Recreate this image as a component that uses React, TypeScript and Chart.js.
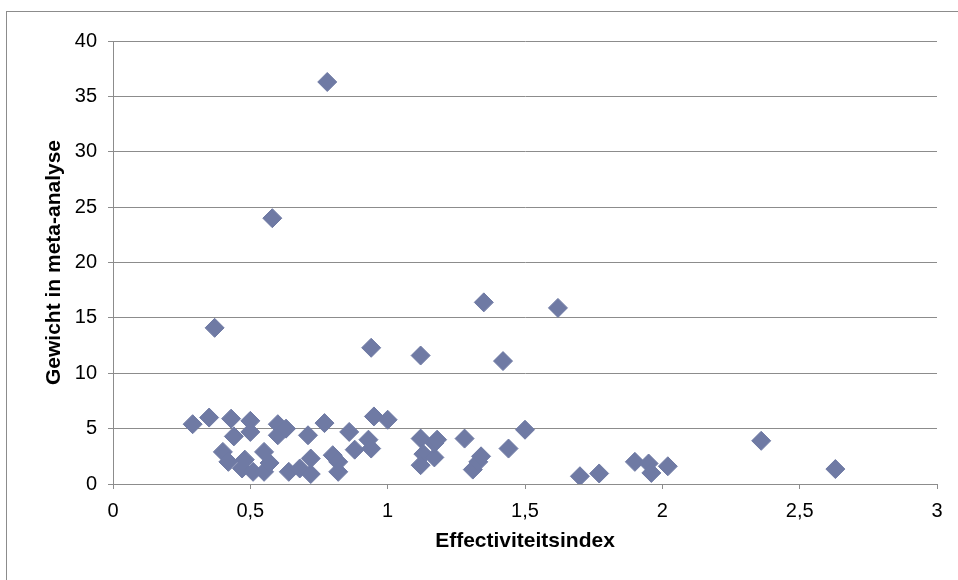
import React, { useEffect, useRef } from "react";
import { Chart, registerables } from "chart.js";

Chart.register(...registerables);

// Effectiviteitsindex (x) and Gewicht in meta-analyse (y)
const effectIndex: number[] = [
  0.29, 0.35, 0.37, 0.40, 0.42, 0.43, 0.44, 0.47, 0.48, 0.50,
  0.50, 0.51, 0.55, 0.55, 0.57, 0.58, 0.60, 0.60, 0.63, 0.64,
  0.68, 0.71, 0.72, 0.72, 0.77, 0.78, 0.80, 0.82, 0.82, 0.86,
  0.88, 0.93, 0.94, 0.94, 0.95, 1.00, 1.12, 1.12, 1.13, 1.12,
  1.17, 1.17, 1.18, 1.28, 1.31, 1.33, 1.34, 1.35, 1.42, 1.44,
  1.50, 1.62, 1.70, 1.77, 1.90, 1.95, 1.96, 2.02, 2.36, 2.63,
];
const weights: number[] = [
  5.4, 6.0, 14.1, 2.9, 2.0, 5.9, 4.3, 1.4, 2.2, 5.7,
  4.7, 1.1, 2.9, 1.1, 1.9, 24.0, 5.4, 4.4, 5.0, 1.1,
  1.4, 4.4, 0.9, 2.3, 5.5, 36.3, 2.6, 2.0, 1.1, 4.7,
  3.1, 4.0, 3.2, 12.3, 6.1, 5.8, 11.6, 4.1, 2.7, 1.7,
  2.4, 3.7, 4.0, 4.1, 1.3, 2.0, 2.5, 16.4, 11.1, 3.2,
  4.9, 15.9, 0.7, 0.95, 2.0, 1.85, 1.0, 1.6, 3.9, 1.35,
];

const xTitle = "Effectiviteitsindex";
const yTitle = "Gewicht in meta-analyse";

const FONT = "'Liberation Sans', Arial, sans-serif";
const GRID = "#8c8c8c";
const MARKER = "#6f7aa4";

const frame = {
  id: "frame",
  beforeDraw(chart: any) {
    const ctx = chart.ctx;
    ctx.save();
    ctx.fillStyle = "#ffffff";
    ctx.fillRect(0, 0, chart.width, chart.height);
    ctx.strokeStyle = GRID;
    ctx.lineWidth = 1;
    ctx.strokeRect(6.5, 11.5, chart.width + 50, chart.height + 50);
    ctx.restore();
  },
};

export default function App() {
  const ref = useRef<HTMLCanvasElement | null>(null);

  useEffect(() => {
    if (!ref.current) return;
    const points = effectIndex.map((x, i) => ({ x, y: weights[i] }));
    const chart = new Chart(ref.current, {
      type: "scatter",
      data: {
        datasets: [
          {
            data: points,
            pointStyle: "rectRot",
            pointRadius: 9.5,
            pointHoverRadius: 9.5,
            backgroundColor: MARKER,
            borderColor: MARKER,
            borderWidth: 1,
          },
        ],
      },
      options: {
        animation: false,
        responsive: false,
        events: [],
        layout: { padding: { top: 41, right: 21, left: 0, bottom: 0 } },
        plugins: { legend: { display: false }, tooltip: { enabled: false } },
        scales: {
          x: {
            type: "linear",
            min: 0,
            max: 3,
            afterFit: (s: any) => {
              s.height = 96;
            },
            ticks: {
              stepSize: 0.5,
              color: "#000",
              padding: 10,
              font: { family: FONT, size: 20 },
              callback: (v: any) => String(v).replace(".", ","),
            },
            grid: {
              drawOnChartArea: false,
              drawTicks: true,
              tickLength: 5,
              color: GRID,
            },
            border: { display: true, color: GRID, width: 1 },
            title: {
              display: true,
              text: xTitle,
              color: "#000",
              font: { family: FONT, size: 21, weight: "bold" },
              padding: { top: 0, bottom: 26 },
            },
          },
          y: {
            type: "linear",
            min: 0,
            max: 40,
            afterFit: (s: any) => {
              s.width = 113;
            },
            ticks: {
              stepSize: 5,
              color: "#000",
              padding: 11,
              font: { family: FONT, size: 20 },
            },
            grid: {
              drawTicks: true,
              tickLength: 5,
              color: GRID,
            },
            border: { display: true, color: GRID, width: 1 },
            title: {
              display: true,
              text: yTitle,
              color: "#000",
              font: { family: FONT, size: 21, weight: "bold" },
              padding: { top: 42, bottom: 0 },
            },
          },
        },
      },
      plugins: [frame],
    });
    return () => chart.destroy();
  }, []);

  return (
    <div style={{ position: "fixed", left: 0, top: 0, width: 958, height: 580 }}>
      <canvas ref={ref} width={958} height={580} style={{ display: "block" }} />
    </div>
  );
}
